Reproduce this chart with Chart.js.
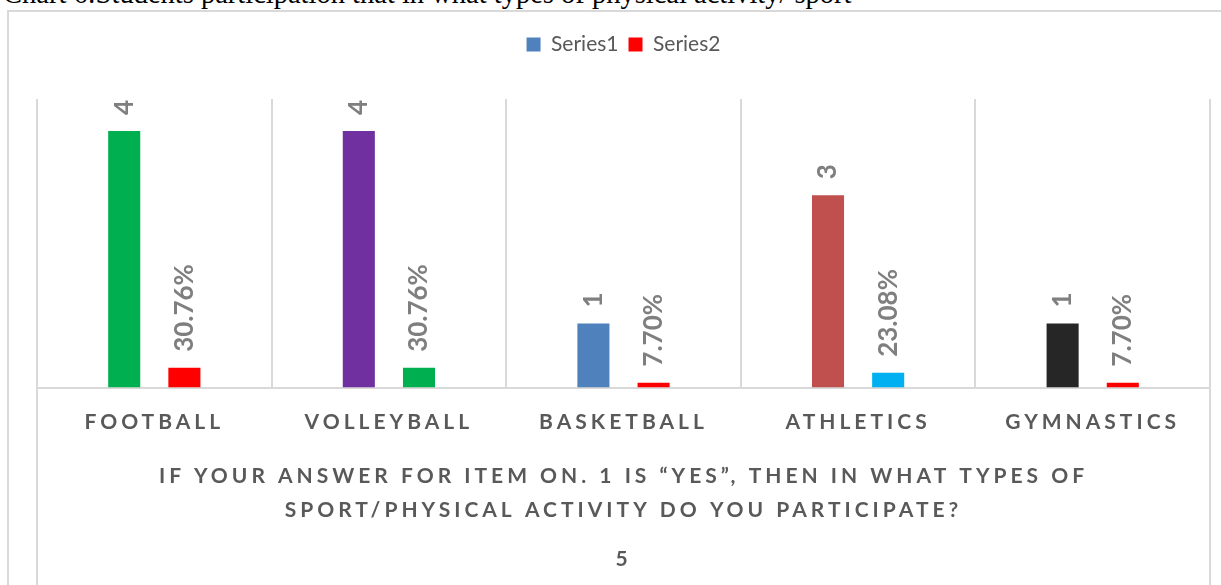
<!DOCTYPE html>
<html>
<head>
<meta charset="utf-8">
<script src="https://cdn.jsdelivr.net/npm/chart.js@4"></script>
<style>
  html, body { margin: 0; padding: 0; background: #fff; overflow: hidden; }
  #wrap { position: relative; width: 1221px; height: 585px; overflow: hidden; }
  #caption { position: absolute; left: 3px; top: -20px; font: 28.5px 'Liberation Serif', serif; line-height: 1; color: #000; white-space: nowrap; }
  #frame { position: absolute; left: 7px; top: 10px; width: 1300px; height: 700px; border-left: 2px solid #d9d9d9; border-top: 2px solid #d9d9d9; }
  canvas { position: absolute; left: 0; top: 0; }
</style>
</head>
<body>
<div id="wrap">
  <div id="caption">Chart 6:Students participation that in what types of physical activity/ sport</div>
  <div id="frame"></div>
  <canvas id="chart" width="1221" height="585" style="width:1221px;height:585px"></canvas>
</div>
<script>
// chart data
const categories = ['FOOTBALL', 'VOLLEYBALL', 'BASKETBALL', 'ATHLETICS', 'GYMNASTICS'];
const series1 = [4, 4, 1, 3, 1];
const series2 = [0.3076, 0.3076, 0.077, 0.2308, 0.077];
const series1Colors = ['#00B050', '#7030A0', '#4F81BD', '#C0504D', '#262626'];
const series2Colors = ['#FF0000', '#00B050', '#FF0000', '#00B0F0', '#FF0000'];
const legendColors = ['#4F81BD', '#FF0000'];
const axisTitle = [
  'IF YOUR ANSWER FOR ITEM ON. 1 IS \u201CYES\u201D, THEN IN WHAT TYPES OF',
  'SPORT/PHYSICAL ACTIVITY DO YOU PARTICIPATE?'
];
const footLabel = '5';

const TEXT = '#595959';
const GRID = '#d9d9d9';
const SPACING = '4px';

Chart.defaults.font.family = 'Lato';

function fmtLabel(datasetIndex, v) {
  return datasetIndex === 0 ? String(v) : (v * 100).toFixed(2) + '%';
}

// letter-spaced axis text, normal legend text
const spacingPlugin = {
  id: 'spacing',
  beforeDraw(chart) {
    const legend = chart.legend;
    if (legend && !legend._plainText) {
      const orig = legend.draw.bind(legend);
      legend.draw = function (area) {
        const c = chart.ctx;
        const prev = c.letterSpacing;
        c.letterSpacing = '0px';
        orig(area);
        c.letterSpacing = prev;
      };
      legend._plainText = true;
    }
    chart.ctx.letterSpacing = SPACING;
  },
  afterDraw(chart) {
    chart.ctx.letterSpacing = '0px';
  }
};

// rotated value labels above bars + plot edge lines running down
const barLabels = {
  id: 'barLabels',
  afterDatasetsDraw(chart) {
    const ctx = chart.ctx;
    ctx.save();
    ctx.letterSpacing = '0px';
    ctx.fillStyle = '#7f7f7f';
    ctx.font = 'bold 26px Lato';
    ctx.textAlign = 'left';
    ctx.textBaseline = 'middle';
    chart.data.datasets.forEach((ds, di) => {
      chart.getDatasetMeta(di).data.forEach((bar, i) => {
        ctx.save();
        ctx.translate(bar.x, bar.y - 16);
        ctx.rotate(-Math.PI / 2);
        ctx.fillText(fmtLabel(di, ds.data[i]), 0, 0);
        ctx.restore();
      });
    });
    ctx.restore();
  },
  afterDraw(chart) {
    const {ctx, chartArea} = chart;
    ctx.save();
    ctx.strokeStyle = GRID;
    ctx.lineWidth = 2;
    ctx.beginPath();
    ctx.moveTo(chartArea.left, chartArea.bottom);
    ctx.lineTo(chartArea.left, chart.height);
    ctx.moveTo(chartArea.right, chartArea.bottom);
    ctx.lineTo(chartArea.right, chart.height);
    ctx.stroke();
    ctx.restore();
  }
};

new Chart(document.getElementById('chart'), {
  type: 'bar',
  data: {
    labels: categories,
    datasets: [
      { label: 'Series1', data: series1, backgroundColor: series1Colors },
      { label: 'Series2', data: series2, backgroundColor: series2Colors }
    ]
  },
  options: {
    responsive: false,
    animation: false,
    categoryPercentage: 0.513,
    barPercentage: 0.533,
    layout: { padding: { top: 24, left: 37, right: 11, bottom: 13 } },
    plugins: {
      tooltip: { enabled: false },
      legend: {
        position: 'top',
        labels: {
          color: TEXT,
          font: { size: 21 },
          boxWidth: 14,
          boxHeight: 14,
          padding: 10,
          generateLabels(chart) {
            return chart.data.datasets.map((ds, i) => ({
              text: ds.label,
              fillStyle: legendColors[i],
              strokeStyle: legendColors[i],
              lineWidth: 0,
              hidden: false,
              datasetIndex: i,
              fontColor: TEXT
            }));
          }
        }
      },
      subtitle: {
        display: true,
        position: 'bottom',
        text: footLabel,
        color: TEXT,
        font: { size: 21, weight: 'bold' },
        padding: { top: 20, bottom: 0 }
      }
    },
    scales: {
      x: {
        grid: { color: GRID, lineWidth: 2, offset: true, drawTicks: false },
        border: { color: GRID, width: 2 },
        ticks: { color: TEXT, font: { size: 21, weight: 'bold' }, padding: 22, maxRotation: 0 },
        title: {
          display: true,
          text: axisTitle,
          color: TEXT,
          font: { size: 21, weight: 'bold', lineHeight: 34 / 21 },
          padding: { top: 2, bottom: 0 }
        }
      },
      gap: {
        type: 'category',
        position: 'top',
        grid: { display: false },
        border: { display: false },
        ticks: { display: false },
        afterFit(scale) { scale.height = 34; }
      },
      y: { display: false, min: 0, max: 4.5 }
    }
  },
  plugins: [spacingPlugin, barLabels]
});
</script>
</body>
</html>
